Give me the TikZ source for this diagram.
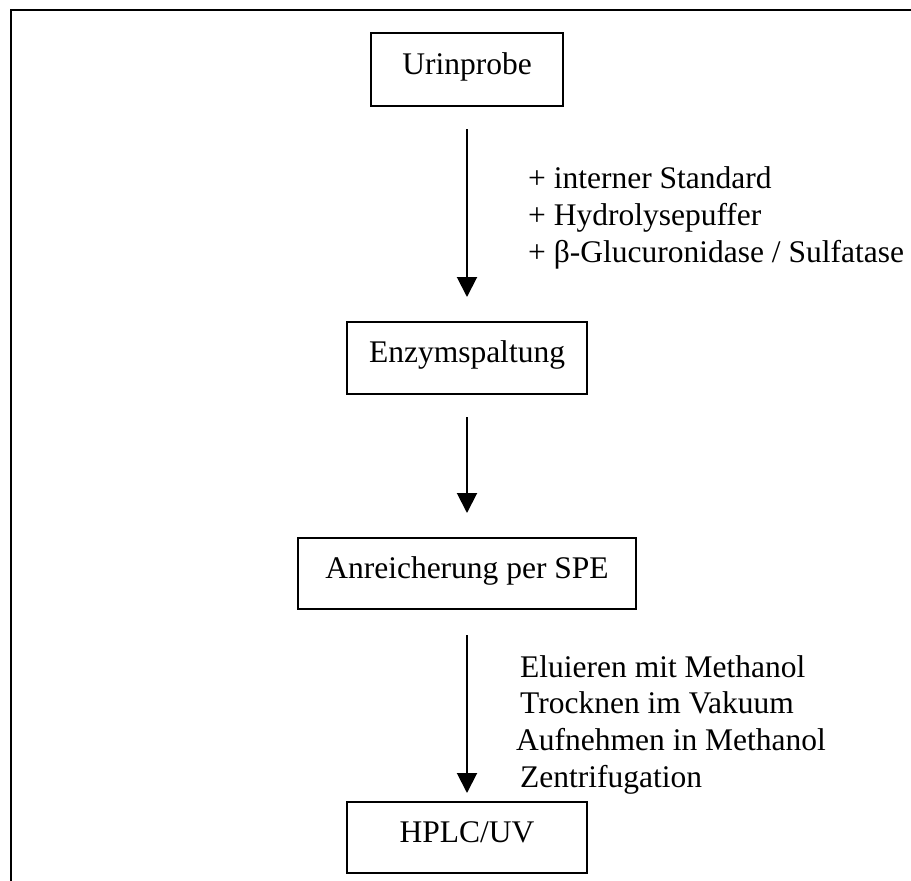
\documentclass[tikz,border=0pt]{standalone}
\usepackage{fontspec}
\setmainfont{Liberation Serif}
\usetikzlibrary{arrows.meta}
\begin{document}
\begin{tikzpicture}[x=1pt,y=-1pt,
  every node/.style={font=\fontsize{31.5}{38}\selectfont},
  stepbox/.style={draw, line width=2pt, inner sep=0pt, outer sep=0pt,
    text height=20pt, text depth=11pt, minimum height=72pt},
  flow/.style={line width=2pt, -{Triangle[width=20pt,length=20pt]}},
  note/.style={anchor=base west, inner sep=0pt}]
\useasboundingbox (0,0) rectangle (911,881);
% open frame: left and top edges only
\draw[line width=2.4pt] (11,881) -- (11,10) -- (911,10);

% process steps
\node[stepbox, minimum width=192pt, minimum height=73pt] (urin) at (467,69.5) {Urinprobe};
\node[stepbox, minimum width=240pt] (enz) at (467,358) {Enzymspaltung};
\node[stepbox, minimum width=338pt, minimum height=71pt] (spe) at (467,573.5) {Anreicherung per SPE};
\node[stepbox, minimum width=240pt, minimum height=71pt] (hplc) at (467,837.5) {HPLC/UV};

% connectors
\draw[flow, shorten <=23pt, shorten >=25pt] (urin) -- (enz);
\draw[flow, shorten <=23pt, shorten >=25pt] (enz) -- (spe);
\draw[flow, shorten <=26pt, shorten >=9pt] (spe) -- (hplc);

% reagents added before hydrolysis
\node[note] (n1) at (528,188) {+ interner Standard};
\node[note] (n2) at (528,225) {+ Hydrolysepuffer};
\node[note] (n3) at (528,262) {+ β-Glucuronidase / Sulfatase};

% work-up after SPE
\node[note] (m1) at (520,677) {Eluieren mit Methanol};
\node[note] (m2) at (520,713) {Trocknen im Vakuum};
\node[note] (m3) at (516,750) {Aufnehmen in Methanol};
\node[note] (m4) at (520,787) {Zentrifugation};
\end{tikzpicture}
\end{document}
